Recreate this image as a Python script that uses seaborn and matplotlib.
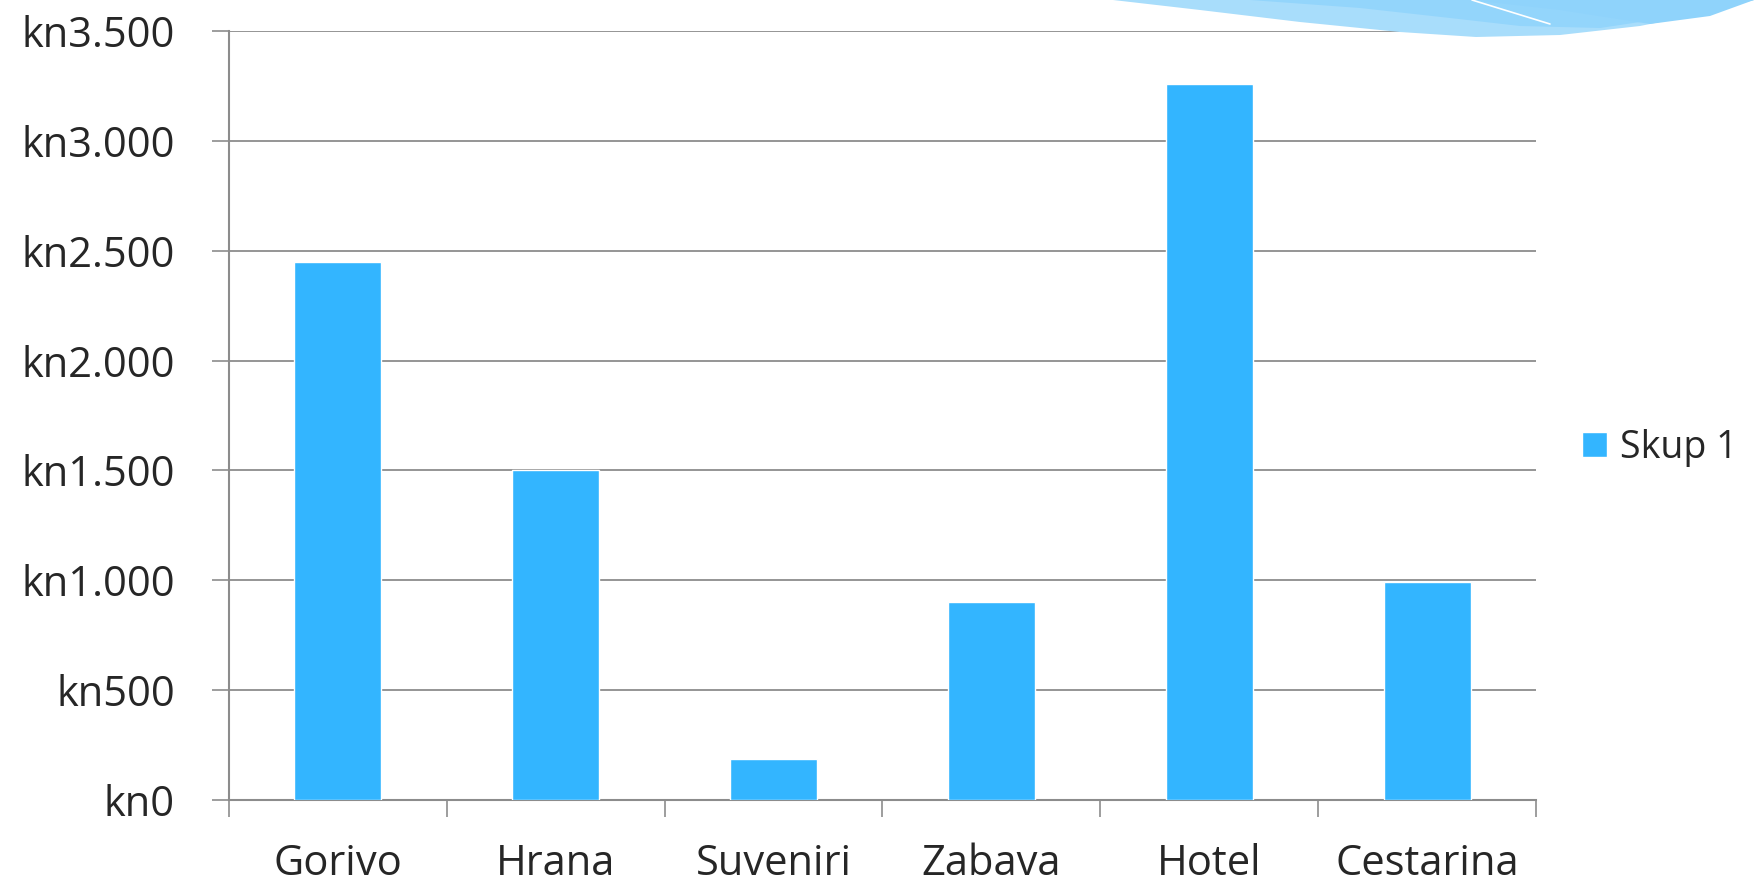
import matplotlib
matplotlib.use("Agg")
import matplotlib.pyplot as plt
import seaborn as sns
import pandas as pd
from matplotlib.patches import Polygon
from matplotlib.ticker import FuncFormatter, FixedLocator, NullFormatter

# data
categories = ["Gorivo", "Hrana", "Suveniri", "Zabava", "Hotel", "Cestarina"]
values = [2450, 1500, 185, 900, 3260, 990]
series_name = "Skup 1"

df = pd.DataFrame({"kategorija": categories, "iznos": values, "serija": series_name})

sns.set_style("white")
plt.rcParams["font.family"] = ["Open Sans", "DejaVu Sans"]

W, H = 1754, 882
fig = plt.figure(figsize=(W / 100, H / 100), dpi=100)

# decorative swoosh in the top right corner (pixel coords -> figure fraction)
def px(points):
    return [(x / W, 1 - y / H) for x, y in points]

swoosh_shapes = [
    ([(1113, 0), (1200, 10), (1300, 22), (1400, 32), (1476, 37), (1560, 35), (1640, 26), (1700, 14), (1754, 0)], "#a8ddfb"),
    ([(1250, 0), (1360, 8), (1450, 18), (1520, 26), (1600, 28), (1680, 16), (1754, 0)], "#93d5fb"),
    ([(1470, 0), (1560, 10), (1650, 24), (1710, 16), (1754, 0)], "#8fd3fb"),
]
for pts, col in swoosh_shapes:
    fig.patches.append(Polygon(px(pts), closed=True, transform=fig.transFigure,
                               facecolor=col, edgecolor="none", zorder=0))
fig.lines.append(plt.Line2D([1472 / W, 1550 / W], [1 - 0 / H, 1 - 24 / H], transform=fig.transFigure,
                            color="white", lw=1.2, zorder=1))

ax = fig.add_axes([229 / W, 1 - 800 / H, (1536 - 229) / W, (800 - 31) / H])
ax.patch.set_alpha(0)

sns.barplot(data=df, x="kategorija", y="iznos", hue="serija", palette=["#33b5ff"],
            width=0.4, saturation=1, ax=ax, zorder=3)

ax.set_ylim(0, 3500)
ax.set_xlim(-0.5, len(categories) - 0.5)
ax.set_yticks(range(0, 3501, 500))
ax.yaxis.set_major_formatter(FuncFormatter(lambda v, p: "kn" + f"{int(v):,}".replace(",", ".")))
ax.yaxis.grid(True, color="#8c8c8c", lw=1.3)
ax.set_axisbelow(True)

# category boundaries get tick marks, labels sit in the middle
ax.xaxis.set_major_locator(FixedLocator([i - 0.5 for i in range(len(categories) + 1)]))
ax.xaxis.set_major_formatter(NullFormatter())
ax.xaxis.set_minor_locator(FixedLocator(range(len(categories))))
ax.set_xticklabels(categories, minor=True)
ax.tick_params(axis="x", which="major", length=12, width=1.2, color="#8c8c8c", direction="out", bottom=True)
ax.tick_params(axis="x", which="minor", length=0, pad=31, labelsize=30)
ax.tick_params(axis="y", length=12, width=1.2, color="#8c8c8c", direction="out", left=True,
               pad=27, labelsize=30)

ax.set_xlabel("")
ax.set_ylabel("")
for s in ["top", "right"]:
    ax.spines[s].set_visible(False)
for s in ["left", "bottom"]:
    ax.spines[s].set_color("#8c8c8c")
    ax.spines[s].set_linewidth(1.5)

ax.legend(loc="center left", bbox_to_anchor=(1548 / W, 1 - 448 / H), bbox_transform=fig.transFigure,
          frameon=False, fontsize=27, handlelength=0.66, handleheight=0.66, handletextpad=0.35)

fig.savefig("out.png", dpi=100)
